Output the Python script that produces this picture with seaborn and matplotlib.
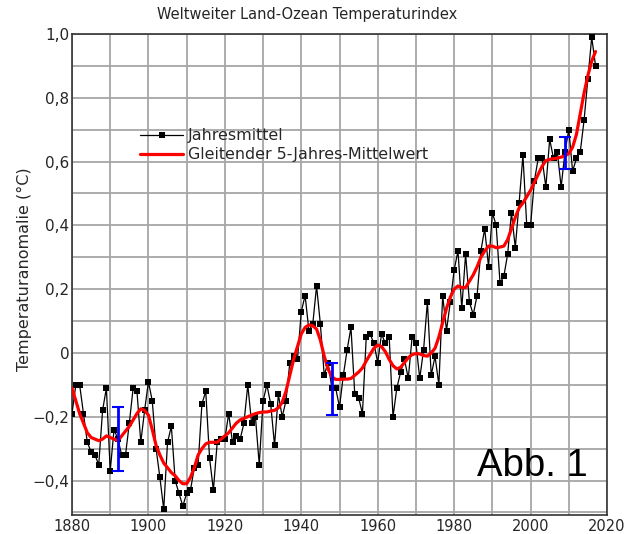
import numpy as np
import pandas as pd
import matplotlib
matplotlib.use("Agg")
import matplotlib.pyplot as plt
from matplotlib.ticker import FuncFormatter, MultipleLocator
import seaborn as sns

years = list(range(1880, 2018))

annual = [
    -0.19, -0.10, -0.10, -0.19, -0.28, -0.31, -0.32, -0.35, -0.18, -0.11,
    -0.37, -0.24, -0.27, -0.32, -0.32, -0.22, -0.11, -0.12, -0.28, -0.18,
    -0.09, -0.15, -0.30, -0.39, -0.49, -0.28, -0.23, -0.40, -0.44, -0.48,
    -0.44, -0.43, -0.36, -0.35, -0.16, -0.12, -0.33, -0.43, -0.28, -0.27,
    -0.27, -0.19, -0.28, -0.26, -0.27, -0.22, -0.10, -0.22, -0.20, -0.35,
    -0.15, -0.10, -0.16, -0.29, -0.13, -0.20, -0.15, -0.03, -0.01, -0.02,
    0.13, 0.18, 0.07, 0.09, 0.21, 0.09, -0.07, -0.03, -0.11, -0.11,
    -0.17, -0.07, 0.01, 0.08, -0.13, -0.14, -0.19, 0.05, 0.06, 0.03,
    -0.03, 0.06, 0.03, 0.05, -0.20, -0.11, -0.06, -0.02, -0.08, 0.05,
    0.03, -0.08, 0.01, 0.16, -0.07, -0.01, -0.10, 0.18, 0.07, 0.16,
    0.26, 0.32, 0.14, 0.31, 0.16, 0.12, 0.18, 0.32, 0.39, 0.27,
    0.44, 0.40, 0.22, 0.24, 0.31, 0.44, 0.33, 0.47, 0.62, 0.40,
    0.40, 0.54, 0.61, 0.61, 0.52, 0.67, 0.61, 0.63, 0.52, 0.63,
    0.70, 0.57, 0.61, 0.63, 0.73, 0.86, 0.99, 0.90,
]

smooth = [
    -0.11, -0.15, -0.19, -0.22, -0.25, -0.265, -0.27, -0.275, -0.27, -0.26,
    -0.265, -0.27, -0.275, -0.26, -0.245, -0.23, -0.21, -0.19, -0.175, -0.18,
    -0.195, -0.24, -0.29, -0.32, -0.345, -0.36, -0.375, -0.385, -0.40, -0.41,
    -0.41, -0.39, -0.36, -0.32, -0.30, -0.285, -0.28, -0.28, -0.28, -0.27,
    -0.26, -0.25, -0.235, -0.22, -0.21, -0.205, -0.20, -0.195, -0.19, -0.187,
    -0.185, -0.185, -0.182, -0.18, -0.172, -0.155, -0.12, -0.07, -0.02, 0.02,
    0.06, 0.08, 0.088, 0.085, 0.075, 0.04, -0.01, -0.05, -0.075, -0.083,
    -0.083, -0.082, -0.082, -0.08, -0.07, -0.06, -0.047, -0.025, -0.005, 0.015,
    0.025, 0.02, 0.004, -0.02, -0.04, -0.05, -0.045, -0.03, -0.015, -0.005,
    -0.002, -0.003, -0.008, -0.01, 0.0, 0.015, 0.05, 0.095, 0.14, 0.175,
    0.20, 0.21, 0.205, 0.205, 0.225, 0.245, 0.27, 0.30, 0.32, 0.335,
    0.335, 0.33, 0.332, 0.335, 0.355, 0.39, 0.425, 0.455, 0.47, 0.49,
    0.51, 0.535, 0.56, 0.585, 0.603, 0.607, 0.609, 0.611, 0.614, 0.618,
    0.625, 0.645, 0.685, 0.75, 0.815, 0.87, 0.915, 0.945,
]

err_years = [1892, 1948, 2009]
err_center = [-0.27, -0.113, 0.628]
err_half = [0.10, 0.08, 0.05]

title = "Weltweiter Land-Ozean Temperaturindex"
ylabel = "Temperaturanomalie (°C)"
label_annual = "Jahresmittel"
label_smooth = "Gleitender 5-Jahres-Mittelwert"
note = "Abb. 1"

df = pd.DataFrame({"Jahr": years, "Jahresmittel": annual, "Glatt": smooth})

sns.set_style("white")
plt.rcParams["font.family"] = ["DejaVu Sans"]

W, H = 627, 534
fig = plt.figure(figsize=(W / 100, H / 100), dpi=100)
ax_left, ax_right, ax_top, ax_bottom = 72, 607, 34, 515
ax = fig.add_axes([ax_left / W, 1 - ax_bottom / H,
                   (ax_right - ax_left) / W, (ax_bottom - ax_top) / H])

grid_c = "#a6a6a6"
ax.xaxis.set_major_locator(MultipleLocator(20))
ax.xaxis.set_minor_locator(MultipleLocator(10))
ax.yaxis.set_major_locator(MultipleLocator(0.2))
ax.yaxis.set_minor_locator(MultipleLocator(0.1))
ax.grid(True, which="both", color=grid_c, linewidth=1.3, zorder=0)
ax.set_axisbelow(True)

sns.lineplot(data=df, x="Jahr", y="Jahresmittel", ax=ax, color="black",
             linewidth=0.9, marker="s", markersize=4, markeredgewidth=0,
             label=label_annual, zorder=3)
sns.lineplot(data=df, x="Jahr", y="Glatt", ax=ax, color="#ff0000",
             linewidth=2.3, label=label_smooth, zorder=4)

ax.errorbar(err_years, err_center, yerr=err_half, fmt="none",
            ecolor="#0000ff", elinewidth=2, capsize=4, capthick=1.5, zorder=5)

ax.set_xlim(1880, 2020)
ax.set_ylim(-0.508, 1.0)

def fmt(v, pos):
    if abs(v) < 1e-9:
        return "0"
    s = f"{abs(v):.1f}".replace(".", ",")
    return ("\u2212" + s) if v < 0 else s

ax.yaxis.set_major_formatter(FuncFormatter(fmt))
ax.tick_params(axis="x", which="major", labelsize=10.5, length=0, pad=3)
ax.tick_params(axis="y", which="major", labelsize=11, length=0, pad=2)
ax.tick_params(axis="both", which="minor", length=0)

for sp in ax.spines.values():
    sp.set_color("#333333")
    sp.set_linewidth(1.2)

ax.set_xlabel("")
ax.set_ylabel(ylabel, fontsize=11.5)
ax.yaxis.set_label_coords((32 - ax_left) / (ax_right - ax_left),
                          (ax_bottom - 269) / (ax_bottom - ax_top))

fig.text(307 / W, 1 - 15 / H, title, ha="center", va="center", fontsize=10.5)

ax.legend(loc="upper left",
          bbox_to_anchor=((134 - ax_left) / (ax_right - ax_left),
                          (ax_bottom - 122) / (ax_bottom - ax_top)),
          frameon=False, fontsize=11.4, handlelength=2.7,
          handletextpad=0.3, labelspacing=0.25, borderaxespad=0)

fig.text(588 / W, 1 - 476 / H, note, ha="right", va="baseline",
         fontsize=27.5, family=["Liberation Sans", "DejaVu Sans"],
         color="black")

fig.savefig("out.png", dpi=100)
